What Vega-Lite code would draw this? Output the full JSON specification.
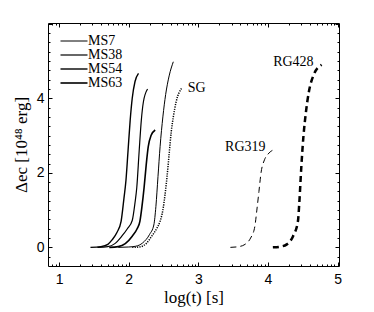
{
  "$schema": "https://vega.github.io/schema/vega-lite/v6.json",
  "autosize": "none",
  "width": 291,
  "height": 243,
  "padding": {"left": 48, "top": 23, "right": 35, "bottom": 46},
  "background": "white",
  "config": {
    "view": {"stroke": "black", "strokeWidth": 1},
    "axis": {"domain": false, "grid": false, "tickColor": "black", "labelColor": "black", "titleColor": "black", "labelFont": "Liberation Sans", "labelFontSize": 14, "titleFont": "Liberation Serif", "titleFontSize": 17, "titleFontWeight": "normal"},
    "legend": {"labelFont": "Liberation Serif", "labelFontSize": 14, "labelColor": "black"}
  },
  "data": {"values": [
    {"series": "MS54", "x": 1.45, "y": 0}, {"series": "MS54", "x": 1.6, "y": 0.02}, {"series": "MS54", "x": 1.7, "y": 0.08}, {"series": "MS54", "x": 1.76, "y": 0.2}, {"series": "MS54", "x": 1.83, "y": 0.4}, {"series": "MS54", "x": 1.89, "y": 0.7}, {"series": "MS54", "x": 1.93, "y": 1.3}, {"series": "MS54", "x": 1.96, "y": 1.8}, {"series": "MS54", "x": 1.99, "y": 2.6}, {"series": "MS54", "x": 2.02, "y": 3.4}, {"series": "MS54", "x": 2.05, "y": 4.0}, {"series": "MS54", "x": 2.09, "y": 4.45}, {"series": "MS54", "x": 2.14, "y": 4.67},
    {"series": "MS38", "x": 1.55, "y": 0}, {"series": "MS38", "x": 1.7, "y": 0.02}, {"series": "MS38", "x": 1.8, "y": 0.1}, {"series": "MS38", "x": 1.9, "y": 0.3}, {"series": "MS38", "x": 1.98, "y": 0.5}, {"series": "MS38", "x": 2.05, "y": 0.72}, {"series": "MS38", "x": 2.09, "y": 1.2}, {"series": "MS38", "x": 2.115, "y": 1.6}, {"series": "MS38", "x": 2.15, "y": 2.6}, {"series": "MS38", "x": 2.18, "y": 3.4}, {"series": "MS38", "x": 2.21, "y": 3.9}, {"series": "MS38", "x": 2.27, "y": 4.25},
    {"series": "MS63", "x": 1.72, "y": 0}, {"series": "MS63", "x": 1.85, "y": 0.02}, {"series": "MS63", "x": 1.95, "y": 0.1}, {"series": "MS63", "x": 2.05, "y": 0.3}, {"series": "MS63", "x": 2.12, "y": 0.5}, {"series": "MS63", "x": 2.16, "y": 0.7}, {"series": "MS63", "x": 2.19, "y": 1.1}, {"series": "MS63", "x": 2.22, "y": 1.6}, {"series": "MS63", "x": 2.25, "y": 2.2}, {"series": "MS63", "x": 2.28, "y": 2.7}, {"series": "MS63", "x": 2.32, "y": 3.0}, {"series": "MS63", "x": 2.38, "y": 3.15},
    {"series": "MS7", "x": 1.85, "y": 0}, {"series": "MS7", "x": 2.0, "y": 0.01}, {"series": "MS7", "x": 2.1, "y": 0.03}, {"series": "MS7", "x": 2.2, "y": 0.12}, {"series": "MS7", "x": 2.3, "y": 0.35}, {"series": "MS7", "x": 2.36, "y": 0.6}, {"series": "MS7", "x": 2.39, "y": 1.1}, {"series": "MS7", "x": 2.42, "y": 1.9}, {"series": "MS7", "x": 2.45, "y": 2.7}, {"series": "MS7", "x": 2.49, "y": 3.5}, {"series": "MS7", "x": 2.53, "y": 4.1}, {"series": "MS7", "x": 2.58, "y": 4.6}, {"series": "MS7", "x": 2.64, "y": 4.98},
    {"series": "SG", "x": 2.05, "y": 0}, {"series": "SG", "x": 2.15, "y": 0.01}, {"series": "SG", "x": 2.25, "y": 0.1}, {"series": "SG", "x": 2.33, "y": 0.3}, {"series": "SG", "x": 2.4, "y": 0.5}, {"series": "SG", "x": 2.45, "y": 0.7}, {"series": "SG", "x": 2.49, "y": 1.0}, {"series": "SG", "x": 2.52, "y": 1.4}, {"series": "SG", "x": 2.55, "y": 1.9}, {"series": "SG", "x": 2.58, "y": 2.5}, {"series": "SG", "x": 2.61, "y": 3.1}, {"series": "SG", "x": 2.64, "y": 3.5}, {"series": "SG", "x": 2.68, "y": 3.9}, {"series": "SG", "x": 2.76, "y": 4.27},
    {"series": "RG319", "x": 3.46, "y": 0}, {"series": "RG319", "x": 3.58, "y": 0.02}, {"series": "RG319", "x": 3.67, "y": 0.08}, {"series": "RG319", "x": 3.75, "y": 0.25}, {"series": "RG319", "x": 3.81, "y": 0.55}, {"series": "RG319", "x": 3.84, "y": 1.0}, {"series": "RG319", "x": 3.87, "y": 1.5}, {"series": "RG319", "x": 3.9, "y": 2.0}, {"series": "RG319", "x": 3.95, "y": 2.35}, {"series": "RG319", "x": 4.0, "y": 2.5}, {"series": "RG319", "x": 4.08, "y": 2.62},
    {"series": "RG428", "x": 4.07, "y": 0}, {"series": "RG428", "x": 4.18, "y": 0.02}, {"series": "RG428", "x": 4.27, "y": 0.08}, {"series": "RG428", "x": 4.36, "y": 0.3}, {"series": "RG428", "x": 4.43, "y": 0.7}, {"series": "RG428", "x": 4.45, "y": 1.2}, {"series": "RG428", "x": 4.48, "y": 2.2}, {"series": "RG428", "x": 4.51, "y": 3.0}, {"series": "RG428", "x": 4.54, "y": 3.55}, {"series": "RG428", "x": 4.59, "y": 4.2}, {"series": "RG428", "x": 4.65, "y": 4.6}, {"series": "RG428", "x": 4.77, "y": 4.9}
  ]},
  "layer": [
    {
      "transform": [{"filter": {"field": "series", "oneOf": ["MS7", "MS38", "MS54", "MS63"]}}],
      "mark": {"type": "line", "interpolate": "monotone", "color": "black"},
      "encoding": {
        "x": {"field": "x", "type": "quantitative", "scale": {"domain": [0.84, 5.02], "nice": false, "zero": false},
          "axis": {"orient": "bottom", "title": "log(t)  [s]", "values": [0.903, 0.954, 1, 1.301, 1.477, 1.602, 1.699, 1.778, 1.845, 1.903, 1.954, 2, 2.301, 2.477, 2.602, 2.699, 2.778, 2.845, 2.903, 2.954, 3, 3.301, 3.477, 3.602, 3.699, 3.778, 3.845, 3.903, 3.954, 4, 4.301, 4.477, 4.602, 4.699, 4.778, 4.845, 4.903, 4.954, 5],
            "tickSize": {"condition": {"test": "abs(datum.value - round(datum.value)) > 0.01", "value": -2}, "value": -4},
            "labelExpr": "abs(datum.value - round(datum.value)) < 0.01 ? format(datum.value, 'd') : ''",
            "labelPadding": 10, "titlePadding": 3}},
        "y": {"field": "y", "type": "quantitative", "scale": {"domain": [-0.5, 6.02], "nice": false, "zero": false},
          "axis": {"orient": "left", "title": "Δec [10⁴⁸ erg]", "values": [-0.25, 0, 0.25, 0.5, 0.75, 1, 1.25, 1.5, 1.75, 2, 2.25, 2.5, 2.75, 3, 3.25, 3.5, 3.75, 4, 4.25, 4.5, 4.75, 5, 5.25, 5.5, 5.75, 6],
            "tickSize": {"condition": {"test": "abs(datum.value/2 - round(datum.value/2)) > 0.01", "value": -2}, "value": -4},
            "labelExpr": "abs(datum.value/2 - round(datum.value/2)) < 0.01 && datum.value < 5 ? format(datum.value, 'd') : ''",
            "labelPadding": 8, "titlePadding": 6}},
        "detail": {"field": "series"},
        "strokeWidth": {"field": "series", "type": "nominal",
          "scale": {"domain": ["MS7", "MS38", "MS54", "MS63"], "range": [1, 1.6, 2.1, 3.2]},
          "legend": {"title": null, "orient": "none", "legendX": 19, "legendY": 11, "symbolType": "M-3,0H3", "symbolSize": 81, "symbolStrokeColor": "black", "labelOffset": 7, "rowPadding": 0, "padding": 0}}
      }
    },
    {
      "transform": [{"filter": {"field": "series", "equal": "SG"}}],
      "mark": {"type": "line", "interpolate": "monotone", "color": "black", "strokeWidth": 1.5, "strokeDash": [1.2, 1.2]},
      "encoding": {
        "x": {"field": "x", "type": "quantitative",
          "axis": {"orient": "top", "title": null, "values": [0.903, 0.954, 1, 1.301, 1.477, 1.602, 1.699, 1.778, 1.845, 1.903, 1.954, 2, 2.301, 2.477, 2.602, 2.699, 2.778, 2.845, 2.903, 2.954, 3, 3.301, 3.477, 3.602, 3.699, 3.778, 3.845, 3.903, 3.954, 4, 4.301, 4.477, 4.602, 4.699, 4.778, 4.845, 4.903, 4.954, 5],
            "tickSize": {"condition": {"test": "abs(datum.value - round(datum.value)) > 0.01", "value": -2}, "value": -4}, "labels": false}},
        "y": {"field": "y", "type": "quantitative",
          "axis": {"orient": "right", "title": null, "values": [-0.25, 0, 0.25, 0.5, 0.75, 1, 1.25, 1.5, 1.75, 2, 2.25, 2.5, 2.75, 3, 3.25, 3.5, 3.75, 4, 4.25, 4.5, 4.75, 5, 5.25, 5.5, 5.75, 6],
            "tickSize": {"condition": {"test": "abs(datum.value/2 - round(datum.value/2)) > 0.01", "value": -2}, "value": -4}, "labels": false}}
      }
    },
    {
      "transform": [{"filter": {"field": "series", "equal": "RG319"}}],
      "mark": {"type": "line", "interpolate": "monotone", "color": "black", "strokeWidth": 1, "strokeDash": [6, 4]},
      "encoding": {"x": {"field": "x", "type": "quantitative", "axis": null}, "y": {"field": "y", "type": "quantitative", "axis": null}}
    },
    {
      "transform": [{"filter": {"field": "series", "equal": "RG428"}}],
      "mark": {"type": "line", "interpolate": "monotone", "color": "black", "strokeWidth": 2.5, "strokeDash": [6, 4]},
      "encoding": {"x": {"field": "x", "type": "quantitative", "axis": null}, "y": {"field": "y", "type": "quantitative", "axis": null}}
    },
    {
      "transform": [{"filter": {"field": "series", "equal": "SG"}}, {"joinaggregate": [{"op": "max", "field": "x", "as": "mx"}]}, {"filter": "datum.x == datum.mx"}],
      "mark": {"type": "text", "align": "left", "baseline": "middle", "dx": 6, "dy": 0, "font": "Liberation Serif", "fontSize": 14, "color": "black"},
      "encoding": {"x": {"field": "x", "type": "quantitative", "axis": null}, "y": {"field": "y", "type": "quantitative", "axis": null}, "text": {"field": "series"}}
    },
    {
      "transform": [{"filter": {"field": "series", "oneOf": ["RG319", "RG428"]}}, {"joinaggregate": [{"op": "max", "field": "x", "as": "mx"}], "groupby": ["series"]}, {"filter": "datum.x == datum.mx"}],
      "mark": {"type": "text", "align": "right", "baseline": "middle", "dx": -8, "dy": -3, "font": "Liberation Serif", "fontSize": 14, "color": "black"},
      "encoding": {"x": {"field": "x", "type": "quantitative", "axis": null}, "y": {"field": "y", "type": "quantitative", "axis": null}, "text": {"field": "series"}}
    }
  ],
  "resolve": {"axis": {"x": "independent", "y": "independent"}}
}
